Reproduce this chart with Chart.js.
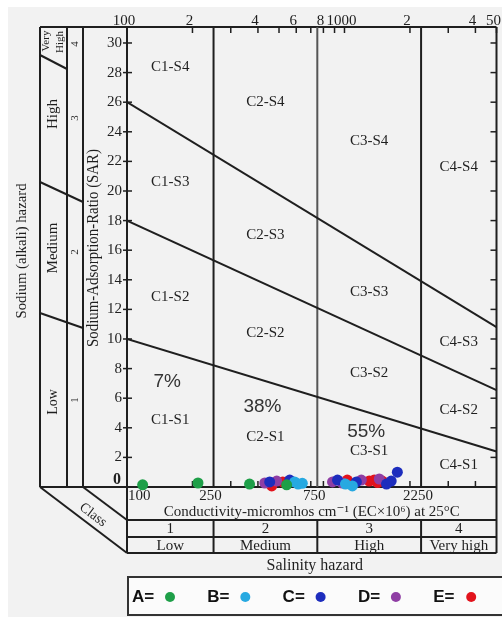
<!DOCTYPE html>
<html lang="en">
<head>
  <meta charset="UTF-8">
  <title>USSL Diagram - Salinity and Sodium Hazard</title>
  <script src="https://cdn.jsdelivr.net/npm/chart.js"></script>
  <style>
    html, body { margin: 0; padding: 0; background: #fff; }
    #wrap { position: relative; width: 502px; height: 618px; }
  </style>
</head>
<body>
  <div id="wrap"><canvas id="ussl" width="502" height="618"></canvas></div>

  <script>
    // ---- samples (EC in micromhos/cm, SAR) ----
    const seriesNames = ['A', 'B', 'C', 'D', 'E'];
    const seriesColors = ['#1e9f48', '#27a9e1', '#1d2dbd', '#8f3ea4', '#e2131c'];
    const ecA = [118, 212, 366, 542];
    const sarA = [0.15, 0.27, 0.2, 0.15];
    const ecB = [590, 612, 640, 1010, 1087];
    const sarB = [0.34, 0.2, 0.25, 0.2, 0.07];
    const ecC = [453, 560, 929, 1134, 1560, 1640, 1750];
    const sarC = [0.34, 0.47, 0.47, 0.34, 0.2, 0.4, 1.0];
    const ecD = [430, 488, 881, 978, 1195, 1445];
    const sarD = [0.27, 0.4, 0.34, 0.27, 0.47, 0.54];
    const ecE = [463, 520, 1030, 1300, 1370, 1420, 1490];
    const sarE = [0.07, 0.34, 0.47, 0.4, 0.47, 0.3, 0.4];
    const ecValues = [ecA, ecB, ecC, ecD, ecE];
    const sarValues = [sarA, sarB, sarC, sarD, sarE];

    // salinity classes
    const classBounds = [100, 250, 750, 2250, 5000];
    const classNumbers = ['1', '2', '3', '4'];
    const classNames = ['Low', 'Medium', 'High', 'Very high'];
    const classShares = ['7%', '38%', '55%'];
    const shareSar = [7.1, 5.4, 3.7];

    // sodium hazard boundaries: SAR at EC = 100 and at EC = 5000
    const sodiumStart = [10, 18, 26];
    const sodiumEnd = [2.4, 6.55, 10.8];

    // zone label heights (SAR), one row per salinity class, S4 first
    const zoneSar = [
      [28.4, 20.6, 12.8, 4.5],
      [26.0, 17.0, 10.4, 3.4],
      [23.4, 13.2, 7.7, 2.4],
      [21.6, 9.8, 5.2, 1.5]
    ];

    // axes
    const sarMax = 31.08;
    const sarTicks = [0, 2, 4, 6, 8, 10, 12, 14, 16, 18, 20, 22, 24, 26, 28, 30];
    const topTicks = [100, 200, 300, 400, 500, 600, 700, 800, 900, 1000, 2000, 3000, 4000, 5000];
    const topLabels = ['100', '2', '', '4', '', '6', '', '8', '', '1000', '2', '', '4', '50'];
    const bottomTicks = [200, 300, 400, 500, 600, 700, 800, 900, 1000, 2000, 3000, 4000];
    const bottomLabels = [100, 250, 750, 2250];

    const INK = '#1f1f1f';
    const SERIF = '"Liberation Serif", "DejaVu Serif", serif';
    const SANS = '"Liberation Sans", Arial, sans-serif';

    function line(ctx, x1, y1, x2, y2) {
      ctx.beginPath();
      ctx.moveTo(x1, y1);
      ctx.lineTo(x2, y2);
      ctx.stroke();
    }

    function label(ctx, s, x, y, font, align, maxW) {
      ctx.font = font;
      ctx.textAlign = align || 'center';
      ctx.textBaseline = 'middle';
      if (maxW) ctx.fillText(s, x, y, maxW); else ctx.fillText(s, x, y);
    }

    function rotLabel(ctx, s, x, y, deg, font, maxW) {
      ctx.save();
      ctx.translate(x, y);
      ctx.rotate(deg * Math.PI / 180);
      label(ctx, s, 0, 0, font, 'center', maxW);
      ctx.restore();
    }

    // frame, table, ticks and texts around the plot
    function drawFrame(chart) {
      const ctx = chart.ctx;
      const a = chart.chartArea;
      const X = v => chart.scales.x.getPixelForValue(v);
      const Y = v => chart.scales.y.getPixelForValue(v);
      const tableTop = 520, tableMid = 537, tableBottom = 553;
      const col1 = 40, col2 = 67, col3 = 83;

      ctx.save();
      ctx.strokeStyle = INK;
      ctx.fillStyle = INK;
      ctx.lineWidth = 2;

      // outer frame
      line(ctx, col1, a.top, a.right, a.top);
      line(ctx, col1, a.bottom, a.right, a.bottom);
      line(ctx, a.left, a.top, a.left, tableBottom);
      line(ctx, a.right, a.top, a.right, tableBottom);
      [col1, col2, col3].forEach(x => line(ctx, x, a.top, x, a.bottom));

      // perspective edges and sodium-class dividers on the left
      line(ctx, col1, a.bottom, a.left, tableBottom);
      line(ctx, col3, a.bottom, a.left, tableTop);
      line(ctx, col1, 55, col2, 69);
      line(ctx, col1, 182, col3, 202);
      line(ctx, col1, 313, col3, 328);

      // salinity table
      [tableTop, tableMid, tableBottom].forEach(y => line(ctx, a.left, y, a.right, y));
      classBounds.slice(1, -1).forEach(b => line(ctx, X(b), tableTop, X(b), tableBottom));

      // ticks
      ctx.lineWidth = 1.5;
      sarTicks.forEach(v => {
        if (v === 0) return;
        line(ctx, a.left - 4, Y(v), a.left + 5, Y(v));
        line(ctx, a.right - 6, Y(v), a.right, Y(v));
      });
      topTicks.forEach(v => line(ctx, X(v), a.top, X(v), a.top + 6));
      bottomTicks.forEach(v => line(ctx, X(v), a.bottom - 6, X(v), a.bottom));

      // tick labels
      sarTicks.forEach(v => {
        if (v === 0) label(ctx, '0', a.left - 6, Y(v) - 7, 'bold 16px ' + SERIF, 'right');
        else label(ctx, String(v), a.left - 5, Y(v), '15px ' + SERIF, 'right');
      });
      topTicks.forEach((v, i) => {
        if (topLabels[i]) label(ctx, topLabels[i], X(v) - 3, a.top - 6, '15px ' + SERIF);
      });
      bottomLabels.forEach((v, i) => {
        if (i === 0) label(ctx, String(v), X(v) + 1, a.bottom + 9, '15px ' + SERIF, 'left');
        else label(ctx, String(v), X(v) - 3, a.bottom + 9, '15px ' + SERIF);
      });

      // zone labels and class shares
      for (let c = 0; c < 4; c++) {
        const mid = Math.sqrt(classBounds[c] * classBounds[c + 1]);
        zoneSar[c].forEach((s, k) => {
          label(ctx, 'C' + (c + 1) + '-S' + (4 - k), X(mid), Y(s), '15px ' + SERIF);
        });
        const cx = (X(classBounds[c]) + X(classBounds[c + 1])) / 2;
        label(ctx, classNumbers[c], cx, (tableTop + tableMid) / 2 + 1, '15px ' + SERIF);
        label(ctx, classNames[c], cx, (tableMid + tableBottom) / 2 + 1, '15px ' + SERIF, 'center', X(classBounds[c + 1]) - X(classBounds[c]) - 4);
      }
      ctx.fillStyle = '#333';
      classShares.forEach((s, c) => {
        const mid = Math.sqrt(classBounds[c] * classBounds[c + 1]);
        label(ctx, s, X(mid) - 3, Y(shareSar[c]), '19px ' + SANS);
      });
      ctx.fillStyle = INK;

      // axis titles
      label(ctx, 'Conductivity-micromhos cm\u207B\u00B9 (EC\u00D710\u2076) at 25\u00B0C',
        (a.left + a.right) / 2, 512, '15px ' + SERIF, 'center', 338);
      label(ctx, 'Salinity hazard', (a.left + a.right) / 2 + 3, 566, '16px ' + SERIF);
      rotLabel(ctx, 'Sodium (alkali) hazard', 22, 251, -90, '15px ' + SERIF, 135);
      rotLabel(ctx, 'Sodium-Adsorption-Ratio (SAR)', 94, 248, -90, '16px ' + SERIF, 198);
      rotLabel(ctx, 'Very', 46, 41, -90, '11px ' + SERIF);
      rotLabel(ctx, 'High', 60, 42, -90, '11px ' + SERIF);
      rotLabel(ctx, 'High', 53, 114, -90, '15px ' + SERIF);
      rotLabel(ctx, 'Medium', 53, 248, -90, '15px ' + SERIF);
      rotLabel(ctx, 'Low', 53, 402, -90, '14px ' + SERIF);
      rotLabel(ctx, 'Class', 93, 515, 37, '14px ' + SERIF);
      [['4', 44], ['3', 118], ['2', 252], ['1', 400]].forEach(d => {
        rotLabel(ctx, d[0], 75, d[1], -90, '11px ' + SERIF);
      });
      ctx.restore();
    }

    function drawLegend(chart) {
      const ctx = chart.ctx;
      ctx.save();
      ctx.fillStyle = '#fbfbfb';
      ctx.fillRect(128, 577, 376, 38);
      ctx.strokeStyle = '#333';
      ctx.lineWidth = 2;
      ctx.strokeRect(128, 577, 376, 38);
      seriesNames.forEach((name, i) => {
        const tx = 132 + i * 75.3;
        ctx.fillStyle = '#111';
        label(ctx, name + '=', tx, 597, 'bold 17px ' + SANS, 'left');
        ctx.fillStyle = seriesColors[i];
        ctx.beginPath();
        ctx.arc(tx + 38, 597, 5, 0, Math.PI * 2);
        ctx.fill();
      });
      ctx.restore();
    }

    const decor = {
      id: 'decor',
      beforeDraw(chart) {
        const ctx = chart.ctx;
        ctx.save();
        ctx.fillStyle = '#ffffff';
        ctx.fillRect(0, 0, chart.width, chart.height);
        ctx.fillStyle = '#f2f2f2';
        ctx.fillRect(8, 7, chart.width - 8, chart.height - 8);
        ctx.restore();
      },
      beforeDatasetsDraw(chart) { drawFrame(chart); },
      afterDatasetsDraw(chart) { drawLegend(chart); }
    };

    // sample points
    const datasets = seriesNames.map((name, i) => ({
      type: 'scatter',
      label: name,
      data: ecValues[i].map((ec, k) => ({ x: ec, y: sarValues[i][k] })),
      backgroundColor: seriesColors[i],
      borderWidth: 0,
      pointRadius: 5.5,
      clip: false,
      order: 0
    }));

    // sodium hazard boundaries
    sodiumStart.forEach((s, i) => {
      datasets.push({
        type: 'line',
        data: [{ x: classBounds[0], y: s }, { x: classBounds[4], y: sodiumEnd[i] }],
        borderColor: INK,
        borderWidth: 2,
        pointRadius: 0,
        fill: false,
        order: 1
      });
    });

    // salinity class dividers
    classBounds.slice(1, -1).forEach(b => {
      datasets.push({
        type: 'line',
        data: [{ x: b, y: 0 }, { x: b, y: sarMax }],
        borderColor: b === 750 ? '#555' : INK,
        borderWidth: 2,
        pointRadius: 0,
        fill: false,
        order: 1
      });
    });

    new Chart(document.getElementById('ussl'), {
      type: 'scatter',
      data: { datasets: datasets },
      options: {
        responsive: false,
        animation: false,
        events: [],
        layout: { padding: { left: 127, right: 3, top: 27, bottom: 131 } },
        plugins: {
          legend: { display: false },
          tooltip: { enabled: false }
        },
        scales: {
          x: { type: 'logarithmic', min: 100, max: 5000, display: false },
          y: { type: 'linear', min: 0, max: sarMax, display: false }
        }
      },
      plugins: [decor]
    });
  </script>
</body>
</html>
